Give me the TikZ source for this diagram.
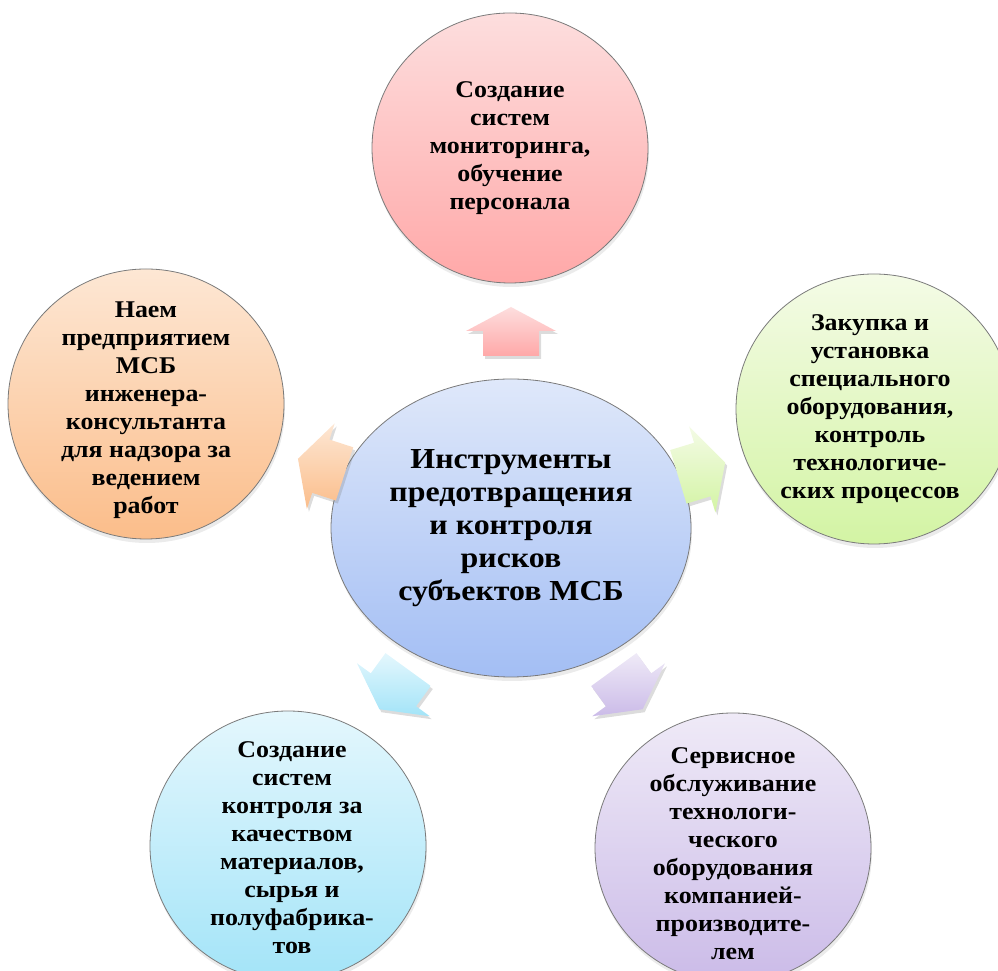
\documentclass[tikz,border=0pt]{standalone}
\usepackage{fontspec}
\setmainfont{Liberation Serif}
\usetikzlibrary{shapes.geometric,shadows,calc}
\definecolor{cT}{HTML}{DFE8FA}\definecolor{cB}{HTML}{A3BEF4}
\definecolor{pT}{HTML}{FDDEDE}\definecolor{pB}{HTML}{FFA8A8}
\definecolor{oT}{HTML}{FDE7D4}\definecolor{oB}{HTML}{FBBD8A}
\definecolor{gT}{HTML}{F4FBE6}\definecolor{gB}{HTML}{D3F4A4}
\definecolor{bT}{HTML}{E4F7FD}\definecolor{bB}{HTML}{A3E4F8}
\definecolor{vT}{HTML}{EFEAF7}\definecolor{vB}{HTML}{CBBBE8}
\definecolor{edge}{HTML}{7A7A7A}
\newcommand\blockarrow[4]{% angle, top colour, bottom colour, distance
  \path[arr, top color=#2, bottom color=#3, shift={(c.center)}, rotate=#1, xshift=#4]
    (24,0) -- (0,45) -- (0,28) -- (-25,28) -- (-25,-28) -- (0,-28) -- (0,-45) -- cycle;}
\begin{document}
\begin{tikzpicture}[x=1pt,y=1pt,
  sat/.style={ellipse, draw=edge, line width=0.8pt, minimum width=276pt, minimum height=270pt, inner sep=0pt,
    drop shadow={shadow xshift=1pt, shadow yshift=-4pt, opacity=0.16}},
  txt/.style={align=center, font=\fontsize{24}{28}\selectfont\bfseries, inner sep=0pt, xscale=1.08},
  ctxt/.style={align=center, font=\fontsize{29}{33}\selectfont\bfseries, inner sep=0pt, xscale=1.1},
  arr/.style={drop shadow={shadow xshift=2pt, shadow yshift=-3pt, opacity=0.28}}]
\useasboundingbox (0,0) rectangle (998,971);
\clip (0,0) rectangle (998,971);

\node[sat, minimum width=360pt, minimum height=298pt, top color=cT, bottom color=cB] (c) at (511,443) {};
\node[sat, top color=pT, bottom color=pB] (t) at (510,823) {};
\node[sat, top color=oT, bottom color=oB] (l) at (146,567) {};
\node[sat, top color=gT, bottom color=gB] (r) at (874,562) {};
\node[sat, top color=bT, bottom color=bB] (bl) at (288,125) {};
\node[sat, top color=vT, bottom color=vB] (br) at (733,123) {};

\blockarrow{90}{pT}{pB}{197}
\blockarrow{17}{gT}{gB}{200}
\blockarrow{162}{oT}{oB}{200}
\blockarrow{-126}{bT}{bB}{200}
\blockarrow{-54}{vT}{vB}{200}

\node[ctxt] (ct) at (c) {Инструменты\\предотвращения\\и контроля\\рисков\\субъектов МСБ};
\node[txt] (tt) at (t) {Создание\\систем\\мониторинга,\\обучение\\персонала};
\node[txt] (lt) at ($(l)+(0,-6)$) {Наем\\предприятием\\МСБ\\инженера-\\консультанта\\для надзора за\\ведением\\работ};
\node[txt] (rt) at ($(r)+(-4,0)$) {Закупка и\\установка\\специального\\оборудования,\\контроль\\технологиче-\\ских процессов};
\node[txt] (blt) at ($(bl)+(4,-2)$) {Создание\\систем\\контроля за\\качеством\\материалов,\\сырья и\\полуфабрика-\\тов};
\node[txt] (brt) at ($(br)+(0,-6)$) {Сервисное\\обслуживание\\технологи-\\ческого\\оборудования\\компанией-\\производите-\\лем};
\end{tikzpicture}
\end{document}
